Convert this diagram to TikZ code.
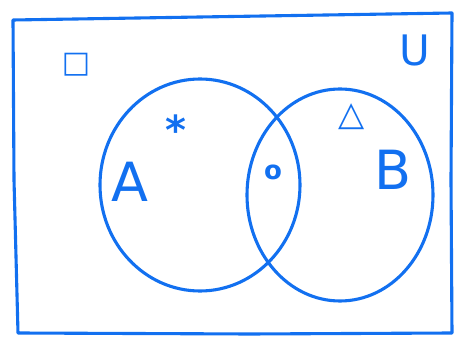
\documentclass[tikz,border=0pt]{standalone}
\usepackage{fontspec}
\usetikzlibrary{shapes.geometric}
\setmainfont{DejaVu Sans}
\definecolor{pen}{RGB}{18,112,240}
\begin{document}
\begin{tikzpicture}[x=1pt,y=-1pt,
  ink/.style={draw=pen,line width=3.1pt,line join=round,line cap=round},
  lab/.style={text=pen,inner sep=0pt,font=\fontsize{#1}{#1}\selectfont},
  lab/.default=40]
\useasboundingbox (0,0) rectangle (461,339);
\draw[ink] (13,20) -- (200,17) -- (452,13) -- (451,180) -- (452,333) -- (250,334) -- (18,333) -- (14,180) -- cycle;
\node[ink,ellipse,minimum width=200pt,minimum height=212pt] (A) at (200,185) {};
\node[ink,ellipse,minimum width=186pt,minimum height=212pt] (B) at (340,195) {};
\node[lab=30] (box) at (76,65) {\textbf{□}};
\node[lab=42] (u) at (415,50) {U};
\node[lab=40] (star) at (176,130) {\textbf{*}};
\node[lab=54] (a) at (130,182) {A};
\node[lab=26] (o) at (273,172) {\textbf{o}};
\node[lab=34] (tri) at (352,117) {\textbf{△}};
\node[lab=54] (b) at (393,170) {B};
\end{tikzpicture}
\end{document}
